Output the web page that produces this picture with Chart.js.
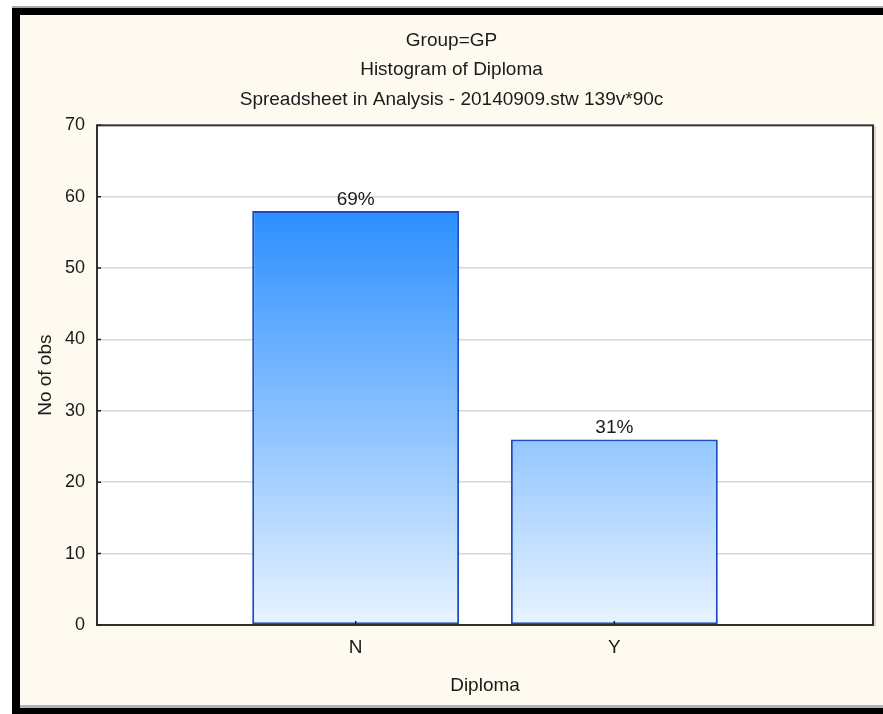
<!DOCTYPE html>
<html lang="en">
<head>
<meta charset="UTF-8">
<title>Histogram of Diploma</title>
<script src="https://cdn.jsdelivr.net/npm/chart.js@4.4.0/dist/chart.umd.min.js"></script>
<style>
    body { margin: 0; background: #ffffff; }
    canvas { display: block; }
</style>
</head>
<body>
<canvas id="chartHist" width="883" height="714"></canvas>
<script>
    // data
    var categories = ['N', 'Y'];
    var counts = [58, 26];
    var yTicks = [0, 10, 20, 30, 40, 50, 60, 70];
    var titleLines = ['Group=GP', 'Histogram of Diploma', 'Spreadsheet in Analysis - 20140909.stw 139v*90c'];

    var total = counts.reduce(function (a, b) { return a + b; }, 0);
    var fontFam = '"Liberation Sans", Arial, sans-serif';

    // cream panel with the black window frame
    var framePlugin = {
        id: 'frame',
        beforeDraw: function (chart) {
            var c = chart.ctx;
            c.save();
            c.fillStyle = '#ffffff';
            c.fillRect(0, 0, 883, 714);
            c.fillStyle = '#a8a8a8';
            c.fillRect(12, 6, 871, 2);
            c.fillStyle = '#000000';
            c.fillRect(12, 8, 871, 7);
            c.fillRect(12, 8, 8, 706);
            c.fillRect(12, 708, 871, 6);
            c.fillStyle = '#fffaf0';
            c.fillRect(20, 15, 863, 691);
            c.fillStyle = '#b4b4b4';
            c.fillRect(20, 705, 863, 3);
            var a = chart.chartArea;
            c.fillStyle = '#ffffff';
            c.fillRect(a.left, a.top, a.right - a.left, a.bottom - a.top);
            c.restore();
        },
        afterDatasetsDraw: function (chart) {
            var c = chart.ctx;
            var a = chart.chartArea;
            var x = chart.scales.x, y = chart.scales.y;
            c.save();
            // plot box
            c.strokeStyle = '#b0b0b0';
            c.lineWidth = 1;
            c.beginPath();
            c.moveTo(a.right + 2, a.top + 1);
            c.lineTo(a.right + 2, a.bottom + 1);
            c.stroke();
            c.strokeStyle = '#303030';
            c.lineWidth = 2;
            c.strokeRect(a.left, a.top, a.right - a.left, a.bottom - a.top);
            // inward tick marks
            c.lineWidth = 1.5;
            c.strokeStyle = '#202020';
            c.beginPath();
            yTicks.forEach(function (v) {
                var py = y.getPixelForValue(v);
                c.moveTo(a.left, py);
                c.lineTo(a.left + 4, py);
            });
            categories.forEach(function (cat, i) {
                var px = x.getPixelForValue(i + 1);
                c.moveTo(px, a.bottom);
                c.lineTo(px, a.bottom - 4);
            });
            c.stroke();
            // percentage labels
            c.fillStyle = '#1a1a1a';
            c.font = '19px ' + fontFam;
            c.textAlign = 'center';
            c.textBaseline = 'bottom';
            chart.getDatasetMeta(0).data.forEach(function (bar, i) {
                var pct = Math.round(counts[i] / total * 100) + '%';
                c.fillText(pct, bar.x, bar.y - 2);
            });
            c.restore();
        }
    };

    function barGradient(ctx) {
        var chart = ctx.chart;
        if (!chart.chartArea) return '#2b8fff';
        var y = chart.scales.y;
        var top = y.getPixelForValue(Math.max.apply(null, counts));
        var bottom = y.getPixelForValue(0);
        var g = chart.ctx.createLinearGradient(0, top, 0, bottom);
        g.addColorStop(0, '#2b8fff');
        g.addColorStop(1, '#e8f3ff');
        return g;
    }

    var config = {
        type: 'bar',
        data: {
            datasets: [{
                data: categories.map(function (c, i) { return { x: i + 1, y: counts[i] }; }),
                backgroundColor: barGradient,
                borderColor: '#1d4cc0',
                borderWidth: 2,
                borderSkipped: false,
                barPercentage: 0.8,
                categoryPercentage: 1
            }]
        },
        options: {
            responsive: false,
            animation: false,
            layout: { padding: { left: 30, top: 26, right: 10, bottom: 13 } },
            plugins: {
                legend: { display: false },
                tooltip: { enabled: false },
                title: {
                    display: true,
                    text: titleLines,
                    color: '#1a1a1a',
                    font: { family: fontFam, size: 19, weight: 'normal', lineHeight: 1.55 },
                    padding: { top: 0, bottom: 11 }
                }
            },
            scales: {
                x: {
                    type: 'linear',
                    offset: false,
                    min: 0,
                    max: categories.length + 1,
                    afterBuildTicks: function (scale) {
                        scale.ticks = categories.map(function (c, i) { return { value: i + 1 }; });
                    },
                    afterFit: function (scale) { scale.height = 76; },
                    ticks: {
                        callback: function (v) { return categories[v - 1] || ''; },
                        color: '#1a1a1a',
                        font: { family: fontFam, size: 19 },
                        padding: 11,
                        maxRotation: 0
                    },
                    grid: { display: false, drawTicks: false, offset: false },
                    border: { display: false },
                    title: {
                        display: true,
                        text: 'Diploma',
                        color: '#1a1a1a',
                        font: { family: fontFam, size: 19 },
                        padding: { top: 8 }
                    }
                },
                y: {
                    min: 0,
                    max: 70,
                    afterBuildTicks: function (scale) {
                        scale.ticks = yTicks.map(function (v) { return { value: v }; });
                    },
                    afterFit: function (scale) { scale.width = 67; },
                    ticks: {
                        color: '#1a1a1a',
                        font: { family: fontFam, size: 18 },
                        padding: 12
                    },
                    grid: {
                        color: function (ctx) { return ctx.tick && ctx.tick.value === 70 ? 'rgba(0,0,0,0)' : '#d6d6d6'; },
                        lineWidth: 1.5,
                        drawTicks: false
                    },
                    border: { display: false },
                    title: {
                        display: true,
                        text: 'No of obs',
                        color: '#1a1a1a',
                        font: { family: fontFam, size: 19 },
                        padding: { bottom: 2 }
                    }
                }
            }
        },
        plugins: [framePlugin]
    };

    var ctx = document.getElementById('chartHist').getContext('2d');
    window.myHist = new Chart(ctx, config);
</script>
</body>
</html>
